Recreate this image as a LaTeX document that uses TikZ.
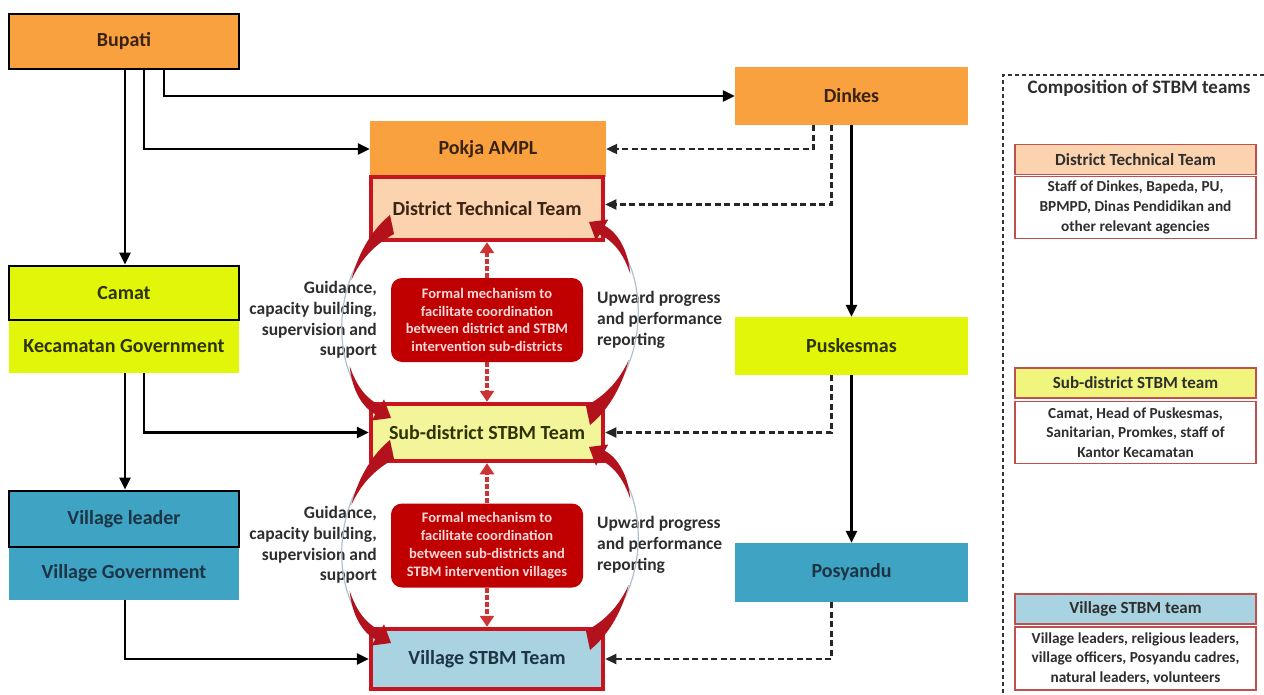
\documentclass[tikz,border=0pt]{standalone}
\usepackage{fontspec}
\setmainfont{Carlito}
\usetikzlibrary{arrows.meta}

\definecolor{orangebox}{HTML}{F9A03F}
\definecolor{peach}{HTML}{FBD3AE}
\definecolor{lime}{HTML}{E2F60A}
\definecolor{paleyellow}{HTML}{F2F59A}
\definecolor{tealblue}{HTML}{3FA3C3}
\definecolor{paleblue}{HTML}{A9D3E0}
\definecolor{teamred}{HTML}{C8141E}
\definecolor{mechred}{HTML}{C00000}
\definecolor{loopred}{HTML}{B3121C}
\definecolor{panelred}{HTML}{C0504D}
\definecolor{browntext}{HTML}{3B2314}
\definecolor{navytext}{HTML}{1D3445}
\definecolor{olivetext}{HTML}{2F3300}
\definecolor{greytext}{HTML}{2E2E2E}
\definecolor{loopgrey}{HTML}{AFC0D0}

% one pair of curved feedback arrows between two team boxes
\newcommand{\feedbackloop}{%
  \draw[loopline] (393,226) .. controls (327,262) and (327,384) .. (380,410);
  \fill[loopred] (390,215) .. controls (374,228) and (359,250) .. (351.3,280)
                 .. controls (362,257) and (376,244) .. (394,234) -- cycle;
  \fill[loopred] (349.7,366) .. controls (352,390) and (362,407) .. (375.3,414.3)
                 -- (371.8,420.5) -- (391,418) -- (384.0,399.3) -- (380.5,405.5)
                 .. controls (368,400) and (357,388) .. (349.7,366) -- cycle;
}

\begin{document}
\begin{tikzpicture}[x=1pt,y=-1pt,
  boxn/.style={inner sep=0pt, align=center, font=\bfseries\fontsize{20}{24}\selectfont},
  blackframe/.style={draw=black, line width=2.8pt},
  teamframe/.style={draw=teamred, line width=4.5pt},
  arr/.style={draw=black, line width=2.6pt, -{Triangle[length=12pt,width=11pt]}},
  darr/.style={draw=black!85, line width=2.2pt, dash pattern=on 6pt off 3.5pt, -{Triangle[length=11pt,width=10pt]}},
  redarr/.style={draw=mechred!80!white, line width=3.2pt, dash pattern=on 5pt off 2pt, -{Triangle[length=11pt,width=14pt]}},
  mech/.style={fill=mechred, rounded corners=11pt, minimum width=192pt, minimum height=84pt, inner sep=0pt,
    align=center, text=white!85!red, font=\bfseries\fontsize{14.5}{17.8}\selectfont},
  side/.style={inner sep=0pt, text=greytext, font=\bfseries\fontsize{17.5}{20.8}\selectfont},
  loopline/.style={draw=loopgrey, line width=1.2pt},
  panelhead/.style={draw=panelred, line width=1.4pt, minimum width=241pt, minimum height=30pt, inner sep=0pt,
    text=greytext, font=\bfseries\fontsize{17}{20}\selectfont},
  panelbody/.style={draw=panelred, line width=1.4pt, fill=white, minimum width=241pt, minimum height=62pt, inner sep=0pt,
    align=center, text=greytext, font=\bfseries\fontsize{15.3}{19.8}\selectfont}
]
\useasboundingbox (0,0) rectangle (1264,695);
\fill[white] (0,0) rectangle (1264,695);

% government line (left column)
\node[boxn, fill=orangebox, blackframe, minimum width=230pt, minimum height=55pt, text=browntext] (bupati) at (124,41.5) {Bupati};
\node[boxn, fill=lime, minimum width=230pt, minimum height=53pt, text=olivetext] (kecgov) at (124,346.5) {Kecamatan Government};
\node[boxn, fill=lime, blackframe, minimum width=230pt, minimum height=54pt, text=olivetext] (camat) at (124,293) {Camat};
\node[boxn, fill=tealblue, minimum width=230pt, minimum height=53pt, text=navytext] (vgov) at (124,573.5) {Village Government};
\node[boxn, fill=tealblue, blackframe, minimum width=230pt, minimum height=56pt, text=navytext] (vleader) at (124,519) {Village leader};

% health line (right column)
\node[boxn, fill=orangebox, minimum width=233pt, minimum height=58pt, text=browntext] (dinkes) at (851.5,96) {Dinkes};
\node[boxn, fill=lime, minimum width=233pt, minimum height=58pt, text=olivetext] (puskesmas) at (851.5,346) {Puskesmas};
\node[boxn, fill=tealblue, minimum width=233pt, minimum height=59pt, text=navytext] (posyandu) at (851.5,572.5) {Posyandu};

% STBM teams (centre column)
\node[boxn, fill=orangebox, minimum width=236pt, minimum height=56pt, text=browntext] (pokja) at (488,149) {Pokja AMPL};
\node[boxn, fill=peach, teamframe, minimum width=232pt, minimum height=63pt, text=browntext] (dtt) at (487,208.5) {District Technical Team};
\node[boxn, fill=paleyellow, teamframe, minimum width=232pt, minimum height=57pt, text=olivetext] (sdt) at (487,432.5) {Sub-district STBM Team};
\node[boxn, fill=paleblue, teamframe, minimum width=232pt, minimum height=60pt, text=navytext] (vst) at (487,659) {Village STBM Team};

% coordination mechanisms
\node[mech] (mech1) at (487,320) {Formal mechanism to\\facilitate coordination\\between district and STBM\\intervention sub-districts};
\node[mech] (mech2) at (487,545.5) {Formal mechanism to\\facilitate coordination\\between sub-districts and\\STBM intervention villages};

\draw[redarr] (mech1.north) -- (dtt.south);
\draw[redarr] (mech1.south) -- (sdt.north);
\draw[redarr] (mech2.north) -- (sdt.south);
\draw[redarr] (mech2.south) -- (vst.north);

% side labels of the feedback loops
\node[side, anchor=east, align=right] (guide1) at (377,320) {Guidance,\\capacity building,\\supervision and\\support};
\node[side, anchor=west, align=left] (report1) at (597,320) {Upward progress\\and performance\\reporting};
\node[side, anchor=east, align=right] (guide2) at (377,545) {Guidance,\\capacity building,\\supervision and\\support};
\node[side, anchor=west, align=left] (report2) at (597,545) {Upward progress\\and performance\\reporting};

% curved guidance / reporting arrows
\feedbackloop
\begin{scope}[rotate around={180:(490,320)}]\feedbackloop\end{scope}
\begin{scope}[shift={(0,225)}]
  \feedbackloop
  \begin{scope}[rotate around={180:(490,320)}]\feedbackloop\end{scope}
\end{scope}

% solid lines of authority
\draw[arr] ([xshift=1pt]bupati.south) -- ([xshift=1pt]camat.north);
\draw[arr] ([xshift=20pt]bupati.south) |- (pokja.west);
\draw[arr] ([xshift=40pt]bupati.south) |- (dinkes.west);
\draw[arr] ([xshift=1pt]kecgov.south) -- ([xshift=1pt]vleader.north);
\draw[arr] ([xshift=20pt]kecgov.south) |- (sdt.west);
\draw[arr] ([xshift=1pt]vgov.south) |- (vst.west);
\draw[arr] (dinkes.south) -- (puskesmas.north);
\draw[arr] (puskesmas.south) -- (posyandu.north);

% dashed lines of technical support
\draw[darr] ([xshift=-38pt]dinkes.south) |- (pokja.east);
\draw[darr] ([xshift=-20pt]dinkes.south) |- ([yshift=4pt]dtt.east);
\draw[darr] ([xshift=-20pt]puskesmas.south) |- (sdt.east);
\draw[darr] ([xshift=-20pt]posyandu.south) |- (vst.east);

% composition panel
\coordinate (pnw) at (1003,75);
\coordinate (pne) at (1264,75);
\coordinate (psw) at (1003,695);
\draw[black!80, line width=1.3pt, dash pattern=on 4pt off 3pt] (pne) -- (pnw) -- (psw);
\node[inner sep=0pt, text=greytext, font=\bfseries\fontsize{19}{22}\selectfont] (comp) at (1139,88) {Composition of STBM teams};

\node[panelhead, fill=peach] (h1) at (1135.5,159.5) {District Technical Team};
\node[panelbody] (b1) at (1135.5,207.5) {Staff of Dinkes, Bapeda, PU,\\BPMPD, Dinas Pendidikan and\\other relevant agencies};
\node[panelhead, fill=paleyellow!80!lime] (h2) at (1135.5,383) {Sub-district STBM team};
\node[panelbody] (b2) at (1135.5,432.5) {Camat, Head of Puskesmas,\\Sanitarian, Promkes, staff of\\Kantor Kecamatan};
\node[panelhead, fill=paleblue] (h3) at (1135.5,609) {Village STBM team};
\node[panelbody, minimum height=63pt] (b3) at (1135.5,658.5) {Village leaders, religious leaders,\\village officers, Posyandu cadres,\\natural leaders, volunteers};
\end{tikzpicture}
\end{document}
